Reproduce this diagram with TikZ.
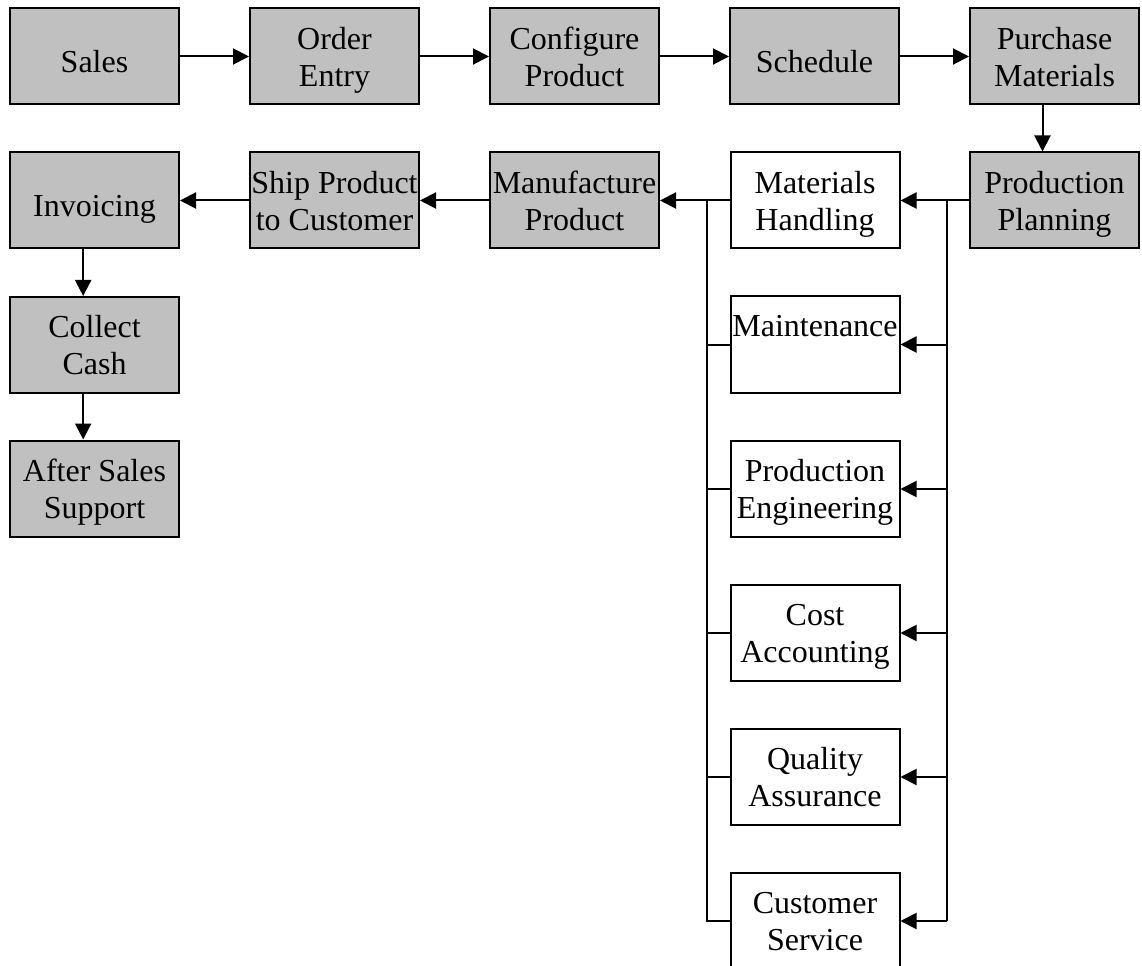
\documentclass[tikz,border=0pt]{standalone}
\usepackage{fontspec}
\setmainfont{Liberation Serif}
\usetikzlibrary{arrows.meta}
\begin{document}
\begin{tikzpicture}[x=0.75pt,y=-0.75pt,
  line width=1.5pt,
  box/.style={draw=black, rectangle, inner sep=0pt,
    minimum width=126.75pt, minimum height=72pt,
    text depth=0pt,
    align=center, font=\fontsize{24pt}{27.75pt}\selectfont},
  gbox/.style={box, fill=boxgray},
  wbox/.style={box, fill=white},
  oneline/.style={text height=24pt},
  flow/.style={-{Triangle[length=12pt,width=12pt]}}]
\definecolor{boxgray}{HTML}{C0C0C0}
\useasboundingbox (0,0) rectangle (1142,966);

% top row: order flow
\node[gbox,oneline] (sales) at (94.5,56.5)  {Sales};
\node[gbox] (order)    at (334.5,56.5) {Order\\Entry};
\node[gbox] (config)   at (574.5,56.5) {Configure\\Product};
\node[gbox,oneline] (sched) at (814.5,56.5) {Schedule};
\node[gbox] (purchase) at (1054.5,56.5) {Purchase\\Materials};

% second row
\node[gbox,oneline] (invoice) at (94.5,200.5) {Invoicing};
\node[gbox] (ship)     at (334.5,200.5) {Ship Product\\to Customer};
\node[gbox] (manuf)    at (574.5,200.5) {Manufacture\\Product};
\node[wbox] (mathand)  at (815,200.5)   {Materials\\Handling};
\node[gbox] (pplan)    at (1054.5,200.5) {Production\\Planning};

% support functions
\node[wbox] (maint)    at (815,344.5) {Maintenance\\\strut};
\node[wbox] (prodeng)  at (815,489)   {Production\\Engineering};
\node[wbox] (cost)     at (815,633)   {Cost\\Accounting};
\node[wbox] (quality)  at (815,777)   {Quality\\Assurance};
\node[wbox] (custserv) at (815,921)   {Customer\\Service};

% after-sales column
\node[gbox] (collect)  at (94.5,345)  {Collect\\Cash};
\node[gbox] (support)  at (94.5,488.5) {After Sales\\Support};

% bus junctions
\coordinate (rtop) at (947,200.5);
\coordinate (rbot) at (947,921);
\coordinate (ltop) at (707,200.5);
\coordinate (lbot) at (707,921);

% top row arrows
\draw[flow] (sales) -- (order);
\draw[flow] (order) -- (config);
\draw[flow] (config) -- (sched);
\draw[flow] (sched) -- (purchase);
\draw[flow] ([xshift=-9pt]purchase.south) -- ([xshift=-9pt]pplan.north);

% second row arrows
\draw[flow] (pplan) -- (mathand);
\draw[flow] (mathand) -- (manuf);
\draw[flow] (manuf) -- (ship);
\draw[flow] (ship) -- (invoice);
\draw[flow] ([xshift=-8.5pt]invoice.south) -- ([xshift=-8.5pt]collect.north);
\draw[flow] ([xshift=-8.5pt]collect.south) -- ([xshift=-8.5pt]support.north);

% right distribution bus
\draw (rtop) -- (rbot);
\draw[flow] (rtop |- maint) -- (maint);
\draw[flow] (rtop |- prodeng) -- (prodeng);
\draw[flow] (rtop |- cost) -- (cost);
\draw[flow] (rtop |- quality) -- (quality);
\draw[flow] (rbot) -- (custserv);

% left collection bus
\draw (ltop) -- (lbot) -- (custserv.west);
\draw (maint.west) -- (ltop |- maint);
\draw (prodeng.west) -- (ltop |- prodeng);
\draw (cost.west) -- (ltop |- cost);
\draw (quality.west) -- (ltop |- quality);
\end{tikzpicture}
\end{document}
